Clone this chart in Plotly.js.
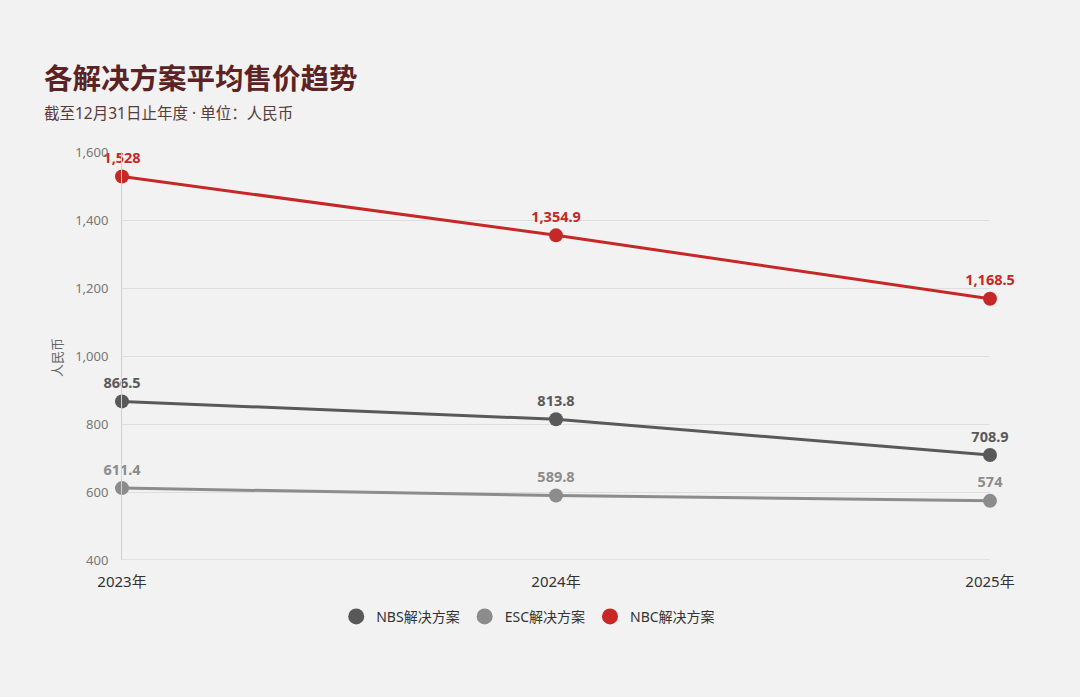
<!DOCTYPE html>
<html>
<head>
<meta charset="utf-8">
<script src="https://cdn.plot.ly/plotly-3.0.1.min.js"></script>
<style>
  html, body { margin: 0; padding: 0; background: #f2f2f2; }
  #chart { width: 1080px; height: 697px; }
</style>
</head>
<body>
<div id="chart"></div>
<script>
const years = ['2023年', '2024年', '2025年'];
const nbs = [866.5, 813.8, 708.9];
const esc = [611.4, 589.8, 574];
const nbc = [1528, 1354.9, 1168.5];
const yTicks = [400, 600, 800, 1000, 1200, 1400, 1600];

const FONT = 'Noto Sans, Noto Sans CJK SC, sans-serif';

function fmt(v) {
  return v.toLocaleString('en-US', { maximumFractionDigits: 1 });
}

function series(name, values, color) {
  return {
    x: years,
    y: values,
    name: name,
    type: 'scatter',
    mode: 'lines+markers+text',
    line: { color: color, width: 3 },
    marker: { color: color, size: 14 },
    text: values.map(fmt),
    textposition: 'top center',
    textfont: { family: FONT, size: 14.5, color: color, weight: 'bold' },
    cliponaxis: false,
    showlegend: false,
    hoverinfo: 'x+y+name',
  };
}

function legendItem(name, color) {
  return {
    x: [null],
    y: [null],
    name: name,
    type: 'scatter',
    mode: 'markers',
    marker: { color: color, size: 20 },
    hoverinfo: 'skip',
  };
}

const traces = [
  series('NBS解决方案', nbs, '#595959'),
  series('ESC解决方案', esc, '#8c8c8c'),
  series('NBC解决方案', nbc, '#c62828'),
  legendItem('NBS解决方案', '#595959'),
  legendItem('ESC解决方案', '#8c8c8c'),
  legendItem('NBC解决方案', '#c62828'),
];

const layout = {
  width: 1080,
  height: 697,
  paper_bgcolor: '#f2f2f2',
  plot_bgcolor: '#f2f2f2',
  font: { family: FONT, color: '#333' },
  margin: { l: 122, r: 90, t: 152, b: 137 },
  xaxis: {
    type: 'category',
    range: [0, 2],
    showgrid: false,
    zeroline: false,
    showline: false,
    ticks: 'outside',
    ticklen: 8,
    tickcolor: 'rgba(0,0,0,0)',
    tickfont: { size: 15, color: '#333' },
    fixedrange: true,
  },
  yaxis: {
    range: [400, 1600],
    tickvals: yTicks,
    tickformat: ',d',
    showgrid: true,
    gridcolor: '#dedede',
    gridwidth: 1,
    zeroline: false,
    showline: true,
    linecolor: '#d0d0d0',
    linewidth: 1,
    ticks: 'outside',
    ticklen: 10,
    tickcolor: 'rgba(0,0,0,0)',
    tickfont: { size: 13, color: '#777' },
    fixedrange: true,
  },
  shapes: [
    { type: 'line', xref: 'paper', yref: 'y', x0: 0, x1: 1, y0: 400, y1: 400,
      line: { color: '#d0d0d0', width: 1 } },
  ],
  legend: {
    orientation: 'h',
    x: 0.468,
    xanchor: 'center',
    y: -0.1,
    yanchor: 'top',
    font: { size: 14, color: '#333' },
    itemwidth: 30,
    tracegroupgap: 0,
  },
  annotations: [
    {
      text: '<b>各解决方案平均售价趋势</b>',
      xref: 'paper', yref: 'paper',
      x: -0.092, y: 1.1814,
      xanchor: 'left', yanchor: 'middle',
      showarrow: false,
      font: { size: 28.5, color: '#5b2323', family: FONT },
    },
    {
      text: '截至12月31日止年度 · 单位：人民币',
      xref: 'paper', yref: 'paper',
      x: -0.092, y: 1.0956,
      xanchor: 'left', yanchor: 'middle',
      showarrow: false,
      font: { size: 15.5, color: '#5a3a3a', family: FONT },
    },
    {
      text: '人民币',
      xref: 'paper', yref: 'paper',
      x: -0.0749, y: 0.4975,
      xanchor: 'center', yanchor: 'middle',
      textangle: -90,
      showarrow: false,
      font: { size: 13, color: '#666', family: FONT },
    },
  ],
};

Plotly.newPlot('chart', traces, layout, { displayModeBar: false });
</script>
</body>
</html>
